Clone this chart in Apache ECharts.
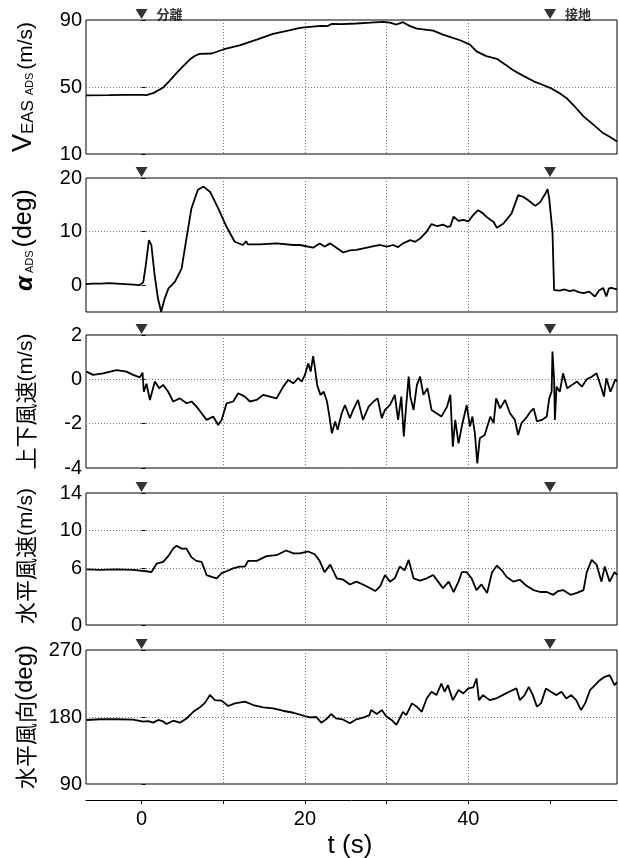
<!DOCTYPE html>
<html>
<head>
<meta charset="utf-8">
<script src="https://cdn.jsdelivr.net/npm/echarts@6/dist/echarts.min.js"></script>
<style>html,body{margin:0;padding:0;background:#fff;}#chart{width:619px;height:858px;}</style>
</head>
<body>
<div id="chart"></div>
<script>
// ---- data (t in s, value) ----
const tMin = -6.8, tMax = 58.2;
const markerTimes = [0, 50];
const markerLabels = ['分離', '接地'];

const vEasData = [[-6.8,45],[-4,45.1],[-2,45.3],[0,45.3],[0.6,45.2],[1.5,46.5],[2.6,49.5],[3.4,53.5],[4.3,58.4],[5.1,62.5],[5.9,66.4],[6.5,68.5],[7.1,69.8],[8.6,70],[10,72.4],[12,74.9],[14.1,78.3],[16.1,81.7],[18.2,83.9],[19.4,85.3],[20.6,85.9],[22,86.5],[22.7,86.3],[23.3,87.7],[24.5,87.5],[26.3,87.9],[28,88.4],[29.6,88.9],[30.4,88.4],[31.2,87.3],[32,88.7],[32.8,86.5],[33.7,84.9],[35.7,83.7],[36.9,81.3],[38,79.5],[39,77.9],[40.2,75.3],[41,71.3],[42.2,68.4],[43.5,66.8],[44.5,63.5],[45.5,60],[46.8,56.5],[48,53.4],[49,51.5],[50,49.5],[51,46.8],[52,43.5],[53,38.5],[54.1,32.5],[55.3,27.5],[56.5,22.5],[57.4,20],[58.2,17.5]];

const alphaData = [[-6.8,0.2],[-6,0.3],[-5,0.3],[-4,0.4],[-3,0.3],[-2,0.2],[-1,0.1],[-0.3,0],[0.2,0.5],[0.5,3.5],[0.9,8.4],[1.2,7.5],[1.6,1.9],[2.0,-2.4],[2.4,-4.95],[2.85,-2.4],[3.3,-0.6],[4.1,0.65],[4.9,3.1],[5.5,8.75],[6.1,14.3],[6.9,17.8],[7.6,18.4],[8.4,17.4],[9.4,14.3],[10.4,10.9],[11.4,8.1],[12.4,7.5],[12.8,8.2],[13,7.6],[14.5,7.6],[16.5,7.8],[18.6,7.5],[19.4,7.5],[21,7.0],[21.8,7.8],[22.4,7.2],[23.1,7.8],[24.7,6.1],[25.5,6.5],[26.3,6.6],[27.6,7.0],[28.4,7.3],[29.2,7.5],[30,7.2],[30.8,7.5],[31.4,7.1],[32,7.8],[32.9,8.4],[33.5,8.1],[34.1,8.7],[34.9,10],[35.5,11.4],[36.2,11.0],[36.9,11.3],[37.4,10.9],[37.8,11.0],[38.2,12.8],[38.8,12.0],[39.4,12.2],[40,11.9],[40.6,13.1],[41.2,14.0],[41.8,13.4],[42.2,12.8],[42.7,12.2],[43.1,11.8],[43.5,10.7],[44.3,11.5],[45.3,13.4],[46.1,16.8],[46.7,16.5],[47.3,15.9],[48.2,14.8],[48.8,15.5],[49.4,17],[49.7,17.9],[49.9,16.2],[50.3,10],[50.5,-0.9],[51.2,-1.0],[51.8,-0.8],[52.4,-1.1],[52.9,-0.9],[53.5,-1.3],[54.1,-1.5],[54.8,-1.2],[55.5,-2.1],[56,-1.0],[56.5,-0.5],[56.9,-2.1],[57.2,-0.6],[57.5,-0.5],[58.2,-0.8]];

const updraftData = [[-6.74,0.35],[-5.93,0.2],[-4.7,0.27],[-3.06,0.42],[-1.84,0.35],[-1.03,0.2],[-0.21,0.09],[0.12,0.3],[0.28,-0.56],[0.61,-0.2],[1.02,-0.93],[1.63,-0.1],[2.16,-0.4],[2.65,-0.25],[3.26,-0.56],[3.87,-1.0],[4.69,-0.86],[5.51,-1.08],[6.12,-1.0],[6.74,-1.23],[7.35,-1.53],[7.96,-1.83],[8.77,-1.68],[9.38,-2.06],[9.8,-1.83],[10.41,-1.08],[11.22,-1.0],[11.83,-0.63],[12.65,-0.78],[13.26,-1.0],[14.08,-0.93],[14.89,-0.7],[15.71,-0.78],[16.53,-0.86],[17.34,-0.33],[17.95,-0.03],[18.57,-0.18],[19.18,0.05],[19.6,-0.1],[20.0,0.2],[20.4,0.72],[20.7,0.35],[21.0,1.05],[21.2,0.57],[21.5,-0.26],[21.9,-0.7],[22.3,-0.56],[22.7,-1.0],[23.0,-1.68],[23.3,-2.43],[23.7,-1.9],[24.0,-2.28],[24.5,-1.53],[24.9,-1.16],[25.5,-1.75],[25.9,-1.38],[26.5,-0.93],[27.1,-1.83],[27.8,-1.23],[28.4,-1.0],[28.9,-0.86],[29.4,-1.75],[29.8,-1.38],[30.4,-1.16],[31.0,-0.7],[31.4,-1.83],[31.8,-0.78],[32.1,-2.58],[32.4,-1.16],[32.7,0.12],[32.9,-0.78],[33.3,-1.38],[33.7,-0.26],[34.1,0.12],[34.5,-0.7],[35.0,-0.4],[35.5,-1.38],[36.1,-1.53],[36.7,-1.68],[37.4,-1.23],[37.8,-0.7],[38.1,-3.04],[38.4,-1.83],[38.8,-2.89],[39.2,-2.13],[39.8,-1.16],[40.2,-2.13],[40.5,-1.68],[40.8,-2.43],[41.1,-3.79],[41.4,-2.66],[42.0,-2.51],[42.7,-1.68],[43.1,-1.98],[43.4,-0.86],[43.9,-1.31],[44.5,-0.93],[45.1,-1.53],[45.7,-1.83],[46.1,-2.51],[46.5,-1.98],[47.2,-1.68],[47.6,-1.46],[48.0,-1.31],[48.4,-1.9],[49.0,-1.83],[49.6,-1.68],[49.9,-0.86],[50.2,-0.56],[50.3,1.25],[50.5,0.0],[50.6,-1.83],[50.8,-0.33],[51.2,-0.56],[51.6,0.27],[52.1,-0.4],[52.7,-0.25],[53.3,-0.1],[53.9,-0.33],[54.5,0],[55.1,0.12],[55.7,0.27],[56.3,-0.4],[56.6,-0.78],[56.9,0.05],[57.4,-0.56],[58.0,0],[58.2,-0.1]];

const hSpeedData = [[-6.74,5.9],[-5.1,5.85],[-3.06,5.9],[-1.03,5.85],[0.6,5.7],[1.2,5.6],[1.84,6.5],[2.65,6.7],[3.26,7.3],[3.87,8.1],[4.28,8.4],[4.9,8.1],[5.5,8.1],[6.1,7.2],[6.7,6.8],[7.35,6.7],[7.96,5.3],[8.6,5.1],[9.2,4.95],[9.8,5.5],[10.4,5.7],[11.2,6.0],[12.0,6.2],[12.65,6.2],[13.05,6.8],[14.1,6.8],[15.3,7.3],[16.5,7.4],[17.7,7.9],[18.6,7.6],[19.4,7.6],[20.4,7.8],[20.6,7.8],[21.2,7.5],[21.8,6.8],[22.4,5.6],[23.1,6.4],[23.9,4.95],[24.7,4.8],[25.5,4.3],[26.3,4.6],[27.1,4.3],[28.0,3.9],[28.6,3.6],[29.2,4.1],[29.8,5.3],[30.4,4.6],[31.0,4.95],[31.6,6.2],[32.2,5.8],[32.7,6.9],[33.3,4.95],[34.1,4.7],[34.9,4.95],[35.7,5.3],[36.3,4.6],[36.9,3.9],[37.6,4.6],[38.2,3.5],[38.8,4.6],[39.2,5.6],[39.8,5.6],[40.4,4.95],[41.0,3.7],[41.6,4.3],[42.3,3.4],[42.9,5.6],[43.5,6.3],[44.1,5.8],[44.7,5.1],[45.5,4.6],[46.3,4.8],[47.2,4.1],[48.0,3.7],[48.8,3.5],[49.6,3.5],[50.4,3.2],[51.0,3.6],[51.6,3.7],[52.5,3.2],[53.3,3.4],[54.1,3.7],[54.5,5.6],[55.1,6.9],[55.7,6.4],[56.3,4.6],[56.7,6.2],[57.3,4.6],[57.9,5.6],[58.2,5.3]];

const hDirData = [[-6.74,176],[-5.1,177],[-3.06,177],[-1.03,176.5],[0.2,173.7],[0.81,174.5],[1.43,172.4],[2.04,176],[2.65,174],[3.06,170.6],[3.87,175],[4.69,172.4],[5.51,178],[6.33,187],[7.14,193],[7.76,199],[8.37,209.6],[8.98,202.8],[9.8,202],[10.6,194.8],[11.43,198.4],[12.65,200.6],[13.67,196.1],[14.9,193],[16.1,191.6],[17.3,188.4],[18.6,185.7],[20.0,181.2],[20.6,179.4],[21.4,180],[22.0,172.4],[22.6,176.9],[23.2,184],[23.8,178.2],[24.6,176.9],[25.5,171.5],[26.3,176.9],[27.1,179],[27.9,182.6],[28.1,189.3],[28.8,184],[29.4,189.3],[30.0,180.4],[30.6,176],[31.2,169.3],[31.6,178.2],[32.0,187],[32.4,182.6],[33.1,198.3],[33.7,193.9],[34.3,187],[34.9,204.9],[35.5,213.9],[36.1,209.4],[36.7,225],[37.1,213.9],[37.5,222.8],[38.1,202.7],[38.8,216.2],[39.4,211.7],[40.0,218.4],[40.6,219.7],[41.0,231.8],[41.3,202.7],[41.8,209.4],[42.6,202.7],[43.4,204.9],[44.2,209.4],[45.0,213.9],[45.9,218.4],[46.3,202.7],[46.9,209.4],[47.4,220.6],[47.9,209.4],[48.4,193.9],[48.9,198.3],[49.5,218.4],[50.1,213.9],[50.8,209.4],[51.4,213.9],[52.0,204.9],[52.6,209.4],[53.2,202.7],[53.8,189.3],[54.3,198.3],[54.9,216.2],[55.5,222.8],[56.1,229.5],[56.7,234],[57.3,236.2],[57.9,222.8],[58.2,227]];

// axis ranges & tick labels
const yRanges = [[10, 90, 10], [-5, 20, 5], [-4, 2, 1], [0, 14, 2], [90, 270, 45]];
const yTickLabels = [[10, 50, 90], [0, 10, 20], [-4, -2, 0, 2], [0, 6, 10, 14], [90, 180, 270]];
const xTickValues = [0, 10, 20, 30, 40, 50];
const xTickLabels = [0, 20, 40];

const seriesData = [vEasData, alphaData, updraftData, hSpeedData, hDirData];

// ---- layout ----
const gridBoxes = [[20, 134], [178, 134], [335, 133], [493, 132], [650, 134]];
const LAT = '"Liberation Sans", Arial, Helvetica, sans-serif';
const CJK = '"Noto Sans CJK JP", "Noto Sans CJK SC", sans-serif';

const chart = echarts.init(document.getElementById('chart'), null, { renderer: 'canvas' });

const grids = gridBoxes.map(b => ({
  left: 86, width: 531, top: b[0], height: b[1],
  show: true, borderColor: '#000', borderWidth: 1, backgroundColor: 'transparent'
}));

const gridLine = { show: true, showMinLine: false, showMaxLine: false,
  lineStyle: { color: '#7a7a7a', type: [1, 2], width: 1 } };

const xAxes = gridBoxes.map((b, i) => {
  const last = i === gridBoxes.length - 1;
  return {
    type: 'value', gridIndex: i, min: tMin, max: tMax,
    offset: last ? 16 : 0,
    axisLine: { show: last, lineStyle: { color: '#000', width: 1 } },
    axisTick: { show: last, length: 4, inside: false, customValues: xTickValues, lineStyle: { color: '#000' } },
    axisLabel: { show: last, customValues: xTickLabels, margin: 9,
      fontFamily: LAT, fontSize: 20, color: '#000',
      formatter: v => (xTickLabels.indexOf(v) >= 0 ? String(v) : '') },
    splitLine: gridLine
  };
});

const yAxes = yRanges.map((r, i) => ({
  type: 'value', gridIndex: i, min: r[0], max: r[1], interval: r[2],
  axisLine: { show: false },
  axisTick: { show: true, inside: true, length: 4, customValues: yTickLabels[i], lineStyle: { color: '#000' } },
  axisLabel: { show: true, margin: 4, fontFamily: LAT, fontSize: 20, color: '#000',
    customValues: yTickLabels[i],
    formatter: v => (yTickLabels[i].indexOf(v) >= 0 ? String(v) : '') },
  splitLine: gridLine
}));

const series = [];
seriesData.forEach((d, i) => {
  series.push({
    type: 'line', xAxisIndex: i, yAxisIndex: i, data: d,
    showSymbol: false, symbol: 'none', animation: false,
    lineStyle: { color: '#000', width: 1.8 }, z: 3
  });
  series.push({
    type: 'scatter', xAxisIndex: i, yAxisIndex: i, clip: false, animation: false,
    data: markerTimes.map((t, k) => ({ value: [t, yRanges[i][1]], name: markerLabels[k] })),
    symbol: 'triangle', symbolRotate: 180, symbolSize: [12, 10], symbolOffset: [0, -6],
    itemStyle: { color: '#000' }, z: 5,
    label: i === 0 ? { show: true, position: 'right', distance: 9,
      formatter: p => p.name, fontFamily: CJK, fontSize: 13, fontWeight: 'bold', color: '#000' } : { show: false }
  });
});

// y axis titles (rotated)
const centers = gridBoxes.map(b => b[0] + b[1] / 2);
function yTitle(cy, rich, text) {
  return { type: 'text', x: 37, y: cy, rotation: Math.PI / 2,
    style: { text: text, rich: rich, align: 'center', verticalAlign: 'bottom' } };
}
const graphics = [
  yTitle(centers[0], {
    v: { fontFamily: LAT, fontSize: 27, fill: '#000', verticalAlign: 'bottom' },
    e: { fontFamily: LAT, fontSize: 17, fill: '#000', verticalAlign: 'bottom' },
    a: { fontFamily: LAT, fontSize: 11, fill: '#000', verticalAlign: 'bottom', padding: [0, 3, 2, 0] },
    u: { fontFamily: LAT, fontSize: 21, fill: '#000', verticalAlign: 'bottom' }
  }, '{v|V}{e|EAS }{a|ADS}{u|(m/s)}'),
  yTitle(centers[1] - 5, {
    g: { fontFamily: LAT, fontSize: 24, fontStyle: 'italic', fontWeight: 'bold', fill: '#000', verticalAlign: 'bottom' },
    a: { fontFamily: LAT, fontSize: 11, fill: '#000', verticalAlign: 'bottom', padding: [0, 3, 2, 3] },
    u: { fontFamily: LAT, fontSize: 25, fill: '#000', verticalAlign: 'bottom' }
  }, '{g|α}{a|ADS}{u|(deg)}'),
  yTitle(centers[2], {
    c: { fontFamily: CJK, fontSize: 22, fill: '#000', verticalAlign: 'bottom' },
    u: { fontFamily: LAT, fontSize: 21, fill: '#000', verticalAlign: 'bottom' }
  }, '{c|上下風速}{u|(m/s)}'),
  yTitle(centers[3] - 3, {
    c: { fontFamily: CJK, fontSize: 22, fill: '#000', verticalAlign: 'bottom' },
    u: { fontFamily: LAT, fontSize: 21, fill: '#000', verticalAlign: 'bottom' }
  }, '{c|水平風速}{u|(m/s)}'),
  yTitle(centers[4], {
    c: { fontFamily: CJK, fontSize: 22, fill: '#000', verticalAlign: 'bottom' },
    u: { fontFamily: LAT, fontSize: 24, fill: '#000', verticalAlign: 'bottom' }
  }, '{c|水平風向}{u|(deg)}'),
  { type: 'text', x: 350, y: 846,
    style: { text: 't (s)', fontFamily: LAT, fontSize: 26, fill: '#000', align: 'center', verticalAlign: 'middle' } }
];

chart.setOption({
  backgroundColor: '#fff',
  animation: false,
  grid: grids,
  xAxis: xAxes,
  yAxis: yAxes,
  series: series,
  graphic: graphics
});
</script>
</body>
</html>
